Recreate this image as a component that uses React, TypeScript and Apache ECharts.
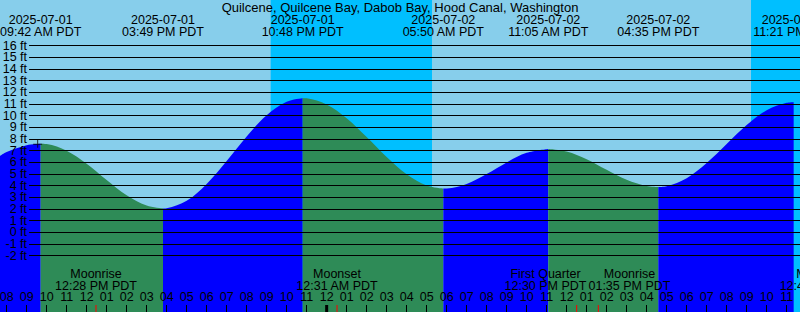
import React, { useEffect, useRef } from "react";
import * as echarts from "echarts";

const TITLE = "Quilcene, Quilcene Bay, Dabob Bay, Hood Canal, Washington";
const FONT = "'Liberation Sans', Arial, sans-serif";
const FS = 12.5;

// time axis: hours since 2025-07-01 00:00 PDT
const X_MIN = 7 + 40 / 60;
const X_MAX = 47 + 40 / 60;
const Y_MIN = -6.83;
const Y_MAX = 19.91;
const GRID_START = 9.12;

const ftLevels = [-2, -1, 0, 1, 2, 3, 4, 5, 6, 7, 8, 9, 10, 11, 12, 13, 14, 15, 16];
const hourTicks = [8, 9, 10, 11, 12, 13, 14, 15, 16, 17, 18, 19, 20, 21, 22, 23, 24, 25, 26, 27,
  28, 29, 30, 31, 32, 33, 34, 35, 36, 37, 38, 39, 40, 41, 42, 43, 44, 45, 46, 47];
const midnightTicks = [24];

const curveTimes = [7.667, 8, 9, 9.7, 10, 11, 12, 13, 14, 15, 15.817, 16, 17, 18, 19, 20, 21, 22, 22.8,
  23, 24, 25, 26, 27, 28, 29, 29.833, 30, 31, 32, 33, 34, 35.083, 36, 37, 38, 39, 40, 40.583,
  41, 42, 43, 44, 45, 46, 47, 47.35, 47.667];
const curveHeights = [6.56, 6.89, 7.47, 7.6, 7.57, 7.0, 5.88, 4.48, 3.17, 2.29, 2.05, 2.07, 2.7, 4.15, 6.12, 8.22, 10.04, 11.2, 11.5,
  11.48, 10.96, 9.78, 8.17, 6.46, 4.98, 4.01, 3.75, 3.76, 4.15, 4.99, 5.99, 6.81, 7.15, 6.93, 6.27, 5.36, 4.5, 3.97, 3.88,
  3.95, 4.64, 5.94, 7.57, 9.19, 10.46, 11.1, 11.15, 11.12];

const extremeTimes = [9.7, 15.817, 22.8, 29.833, 35.083, 40.583, 47.35];
const extremeDates = ["2025-07-01", "2025-07-01", "2025-07-01", "2025-07-02", "2025-07-02", "2025-07-02", "2025-07-02"];
const extremeClock = ["09:42 AM PDT", "03:49 PM PDT", "10:48 PM PDT", "05:50 AM PDT", "11:05 AM PDT", "04:35 PM PDT", "11:21 PM PDT"];

const nightStarts = [21.2, 45.217];
const nightEnds = [29.267, X_MAX];

const moonTimes = [12.467, 24.517, 36.5, 37.583, 48.683];
const moonNames = ["Moonrise", "Moonset", "First Quarter", "Moonrise", "Moonset"];
const moonClock = ["12:28 PM PDT", "12:31 AM PDT", "12:30 PM PDT", "01:35 PM PDT", "12:41 AM PDT"];

const nowTime = 9.55;
const nowHeight = 7.6;

const RISE = "#0000FF";
const FALL = "#2E8B57";
const DAY = "#87CEEB";
const NIGHT = "#00BFFF";

function hourLabel(v: number) {
  const h = Math.round(v) % 12 || 12;
  return (h < 10 ? "0" : "") + h;
}

function measure(s: string, size: number) {
  const c = document.createElement("canvas").getContext("2d");
  if (!c) return s.length * size * 0.55;
  c.font = `${size}px "Liberation Sans"`;
  return c.measureText(s).width;
}

// push apart labels that would overlap, keeping their midpoint
function spread(centers: number[], widths: number[]) {
  const out = centers.slice();
  for (let pass = 0; pass < 5; pass++) {
    for (let i = 0; i < out.length - 1; i++) {
      const need = (widths[i] + widths[i + 1]) / 2 + 2;
      if (out[i + 1] - out[i] < need) {
        const mid = (out[i] + out[i + 1]) / 2;
        out[i] = mid - need / 2;
        out[i + 1] = mid + need / 2;
      }
    }
  }
  return out;
}

export default function App() {
  const ref = useRef<HTMLDivElement>(null);
  useEffect(() => {
    if (!ref.current) return;
    const chart = echarts.init(ref.current, null, { renderer: "svg" });
    const bounds = [X_MIN, ...extremeTimes, X_MAX];
    const segSeries: any[] = [];
    for (let i = 0; i < bounds.length - 1; i++) {
      const pts: number[][] = [];
      curveTimes.forEach((t, k) => {
        if (t >= bounds[i] - 1e-6 && t <= bounds[i + 1] + 1e-6) pts.push([t, curveHeights[k]]);
      });
      const color = i % 2 === 0 ? RISE : FALL;
      segSeries.push({
        type: "line",
        data: pts,
        symbol: "none",
        smooth: 0.35,
        z: 2,
        silent: true,
        lineStyle: { width: 0, color },
        itemStyle: { color },
        areaStyle: { color, opacity: 1, origin: "start" },
      });
    }
    const option: any = {
      animation: false,
      backgroundColor: DAY,
      textStyle: { fontFamily: FONT },
      grid: { left: 0, right: 0, top: 0, bottom: 0, containLabel: false, outerBoundsMode: "none" },
      xAxis: {
        type: "value",
        min: X_MIN,
        max: X_MAX,
        z: 10,
        axisLine: { show: false, onZero: false },
        splitLine: { show: false },
        axisTick: { show: true, inside: true, length: 7, customValues: hourTicks, lineStyle: { color: "#000", width: 1 } },
        axisLabel: {
          show: true, inside: true, margin: 9, customValues: hourTicks, formatter: hourLabel,
          color: "#000", fontSize: FS, fontFamily: FONT, hideOverlap: false,
        },
      },
      yAxis: { type: "value", min: Y_MIN, max: Y_MAX, show: false },
      series: [
        {
          type: "line",
          data: [[X_MIN, Y_MIN]],
          symbol: "none",
          lineStyle: { opacity: 0 },
          z: 1,
          silent: true,
          markArea: {
            silent: true,
            itemStyle: { color: NIGHT },
            data: nightStarts.map((s, i) => [{ xAxis: s }, { xAxis: nightEnds[i] }]),
          },
        },
        ...segSeries,
        {
          type: "line",
          data: [[X_MIN, Y_MIN]],
          symbol: "none",
          lineStyle: { opacity: 0 },
          z: 3,
          silent: true,
          markLine: {
            silent: true,
            symbol: "none",
            lineStyle: { color: "#000", width: 1, type: "solid" },
            label: { show: true, position: "start", distance: 2, color: "#000", fontSize: FS, fontFamily: FONT },
            data: ftLevels.map((v) => [
              { coord: [GRID_START, v], label: { formatter: `${v} ft` } },
              { coord: [X_MAX, v] },
            ]),
          },
        },
        {
          type: "scatter",
          data: [[nowTime, nowHeight]],
          symbol: "path://M4,0H5V8H4ZM0,4H9V5H0Z",
          symbolSize: [9, 8],
          itemStyle: { color: "#000" },
          z: 4,
          silent: true,
        },
      ],
    };
    chart.setOption(option);
    const px = (t: number) => chart.convertToPixel({ xAxisIndex: 0 }, t) as number;
    const txt = (text: string, x: number, y: number, size = FS) => ({
      type: "text",
      z: 100,
      silent: true,
      style: { text, x, y, fill: "#000", fontSize: size, fontFamily: FONT, align: "center", verticalAlign: "middle" },
    });
    const g: any[] = [];
    g.push(txt(TITLE, 400, 7.5, 13));
    extremeTimes.forEach((t, i) => {
      const x = px(t);
      g.push(txt(extremeDates[i], x, 19.5));
      g.push(txt(extremeClock[i], x, 31.5));
    });
    const moonX = moonTimes.map((t) => px(t));
    const moonW = moonTimes.map((_, i) => Math.max(measure(moonNames[i], FS), measure(moonClock[i], FS)));
    const moonLX = spread(moonX, moonW);
    moonTimes.forEach((t, i) => {
      const x = moonX[i];
      g.push(txt(moonNames[i], moonLX[i], 274));
      g.push(txt(moonClock[i], moonLX[i], 285.5));
      g.push({ type: "line", z: 101, silent: true, shape: { x1: x, y1: 305, x2: x, y2: 312 }, style: { stroke: "#FF0000", lineWidth: 1 } });
    });
    midnightTicks.forEach((t) => {
      const x = px(t);
      g.push({ type: "rect", z: 101, silent: true, shape: { x: x - 1.5, y: 305, width: 3, height: 7 }, style: { fill: "#000" } });
    });
    chart.setOption({ graphic: { elements: g } });
    return () => chart.dispose();
  }, []);
  return <div ref={ref} style={{ position: "fixed", left: 0, top: 0, width: 800, height: 312 }} />;
}
